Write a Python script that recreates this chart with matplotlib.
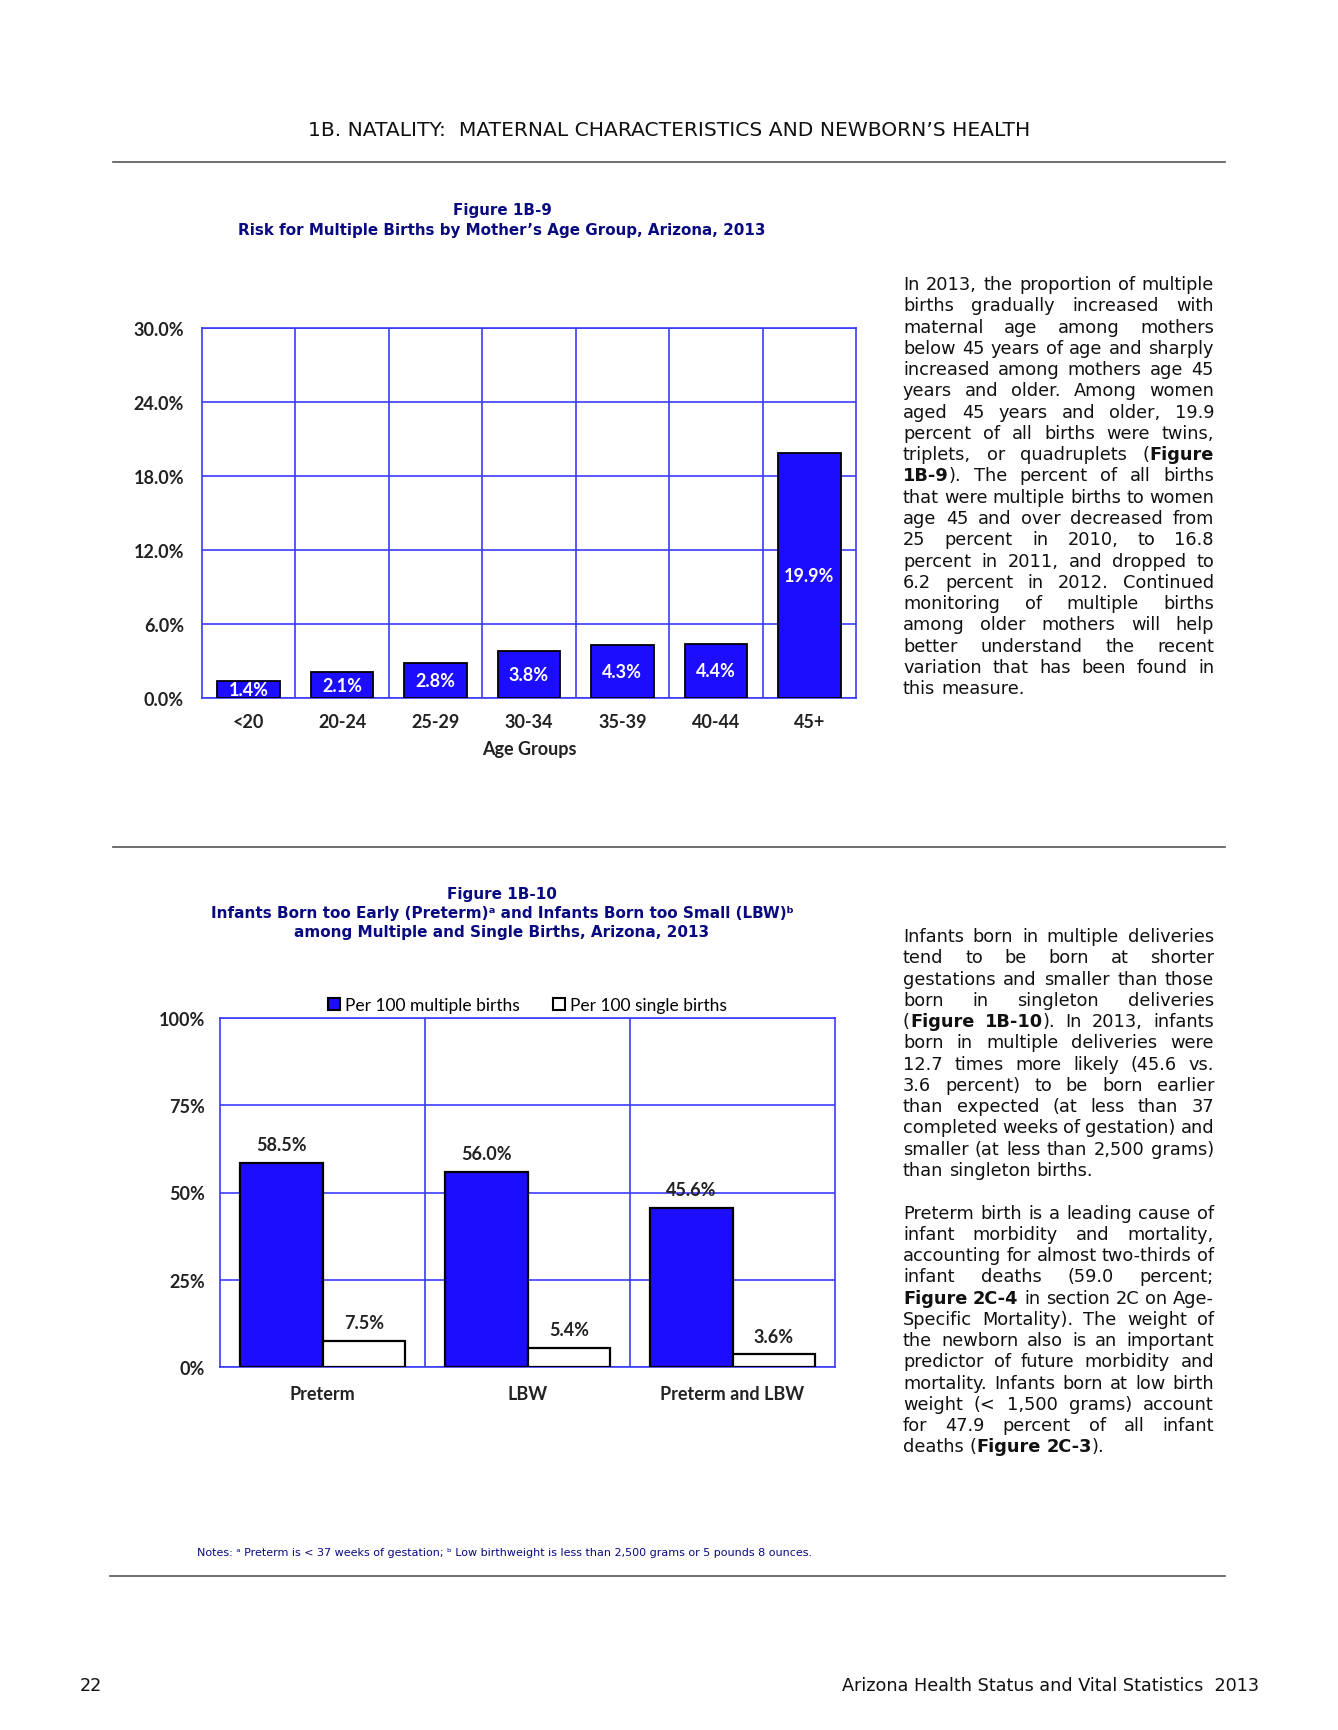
import matplotlib
matplotlib.use('Agg')
import matplotlib.pyplot as plt
from matplotlib.lines import Line2D
from matplotlib.patches import Patch
from matplotlib.ticker import FixedLocator

W, H = 1338, 1731

# Figure 1B-9 data
ages = ['<20', '20-24', '25-29', '30-34', '35-39', '40-44', '45+']
multiple_pct = [1.4, 2.1, 2.8, 3.8, 4.3, 4.4, 19.9]
ticks_1 = [0, 6, 12, 18, 24, 30]

# Figure 1B-10 data
outcomes = ['Preterm', 'LBW', 'Preterm and LBW']
per100_multiple = [58.5, 56.0, 45.6]
per100_single = [7.5, 5.4, 3.6]
ticks_2 = [0, 25, 50, 75, 100]
legend_names = ['Per 100 multiple births', 'Per 100 single births']

header = '1B. NATALITY:  MATERNAL CHARACTERISTICS AND NEWBORN\u2019S HEALTH'
title_1 = ['Figure 1B-9', 'Risk for Multiple Births by Mother\u2019s Age Group, Arizona, 2013']
title_2 = ['Figure 1B-10',
           'Infants Born too Early (Preterm)\u1d43 and Infants Born too Small (LBW)\u1d47',
           'among Multiple and Single Births, Arizona, 2013']
notes = ('Notes: \u1d43 Preterm is < 37 weeks of gestation; \u1d47 Low birthweight is less '
         'than 2,500 grams or 5 pounds 8 ounces.')

# text blocks, *...* = bold
para_1 = [
    'In 2013, the proportion of multiple',
    'births gradually increased with',
    'maternal age among mothers',
    'below 45 years of age and sharply',
    'increased among mothers age 45',
    'years and older. Among women',
    'aged 45 years and older, 19.9',
    'percent of all births were twins,',
    'triplets, or quadruplets (*Figure*',
    '*1B-9*). The percent of all births',
    'that were multiple births to women',
    'age 45 and over decreased from',
    '25 percent in 2010, to 16.8',
    'percent in 2011, and dropped to',
    '6.2 percent in 2012. Continued',
    'monitoring of multiple births',
    'among older mothers will help',
    'better understand the recent',
    'variation that has been found in',
    'this measure.',
]
para_2 = [
    'Infants born in multiple deliveries',
    'tend to be born at shorter',
    'gestations and smaller than those',
    'born in singleton deliveries',
    '(*Figure 1B-10*). In 2013, infants',
    'born in multiple deliveries were',
    '12.7 times more likely (45.6 vs.',
    '3.6 percent) to be born earlier',
    'than expected (at less than 37',
    'completed weeks of gestation) and',
    'smaller (at less than 2,500 grams)',
    'than singleton births.',
]
para_3 = [
    'Preterm birth is a leading cause of',
    'infant morbidity and mortality,',
    'accounting for almost two-thirds of',
    'infant deaths (59.0 percent;',
    '*Figure 2C-4* in section 2C on Age-',
    'Specific Mortality). The weight of',
    'the newborn also is an important',
    'predictor of future morbidity and',
    'mortality. Infants born at low birth',
    'weight (< 1,500 grams) account',
    'for 47.9 percent of all infant',
    'deaths (*Figure 2C-3*).',
]

BLUE = '#1c0dff'
GRID = '#3b3bff'
NAVY = '#0a0a80'
CHART_FONT = ['Lato', 'DejaVu Sans']
plt.rcParams['font.family'] = ['DejaVu Sans']


def fx(x):
    return x / W


def fy(y):
    return 1 - y / H


fig = plt.figure(figsize=(W / 100, H / 100), dpi=100)
renderer = fig.canvas.get_renderer()

# page header / footer / rules
fig.text(fx(669), fy(130), header, ha='center', va='center', fontsize=14.6, color='#111')
for y, x0, x1 in [(163, 113, 1225), (848, 113, 1225), (1577, 110, 1225)]:
    fig.add_artist(Line2D([fx(x0), fx(x1)], [fy(y), fy(y)], color='#555', lw=1.2,
                          transform=fig.transFigure))
fig.text(fx(80), fy(1686), '22', ha='left', va='center', fontsize=12.7, color='#111')
fig.text(fx(1259), fy(1686), 'Arizona Health Status and Vital Statistics  2013',
         ha='right', va='center', fontsize=12.7, color='#111')

# chart titles
for i, s in enumerate(title_1):
    fig.text(fx(502), fy(211 + 19 * i), s, ha='center', va='center', fontsize=10.9,
             fontweight='bold', color=NAVY)
for i, s in enumerate(title_2):
    fig.text(fx(502), fy(895 + 19 * i), s, ha='center', va='center', fontsize=11,
             fontweight='bold', color=NAVY)
fig.text(fx(197), fy(1553), notes, ha='left', va='center', fontsize=8, color=NAVY)


def style_axes(ax, n):
    ax.set_xlim(-0.5, n - 0.5)
    ax.xaxis.set_minor_locator(FixedLocator([i + 0.5 for i in range(n - 1)]))
    ax.grid(axis='y', which='major', color=GRID, lw=1.2, zorder=0)
    ax.grid(axis='x', which='minor', color=GRID, lw=1.2, zorder=0)
    ax.set_axisbelow(True)
    ax.tick_params(which='both', length=0)
    for sp in ax.spines.values():
        sp.set_color(GRID)
        sp.set_linewidth(1.2)


# Figure 1B-9
ax1 = fig.add_axes([fx(202), fy(699), (856 - 202) / W, (699 - 329) / H])
x1 = range(len(ages))
bars = ax1.bar(x1, multiple_pct, width=0.67, color=BLUE, edgecolor='black', linewidth=1.3, zorder=3)
ax1.set_ylim(0, 30)
style_axes(ax1, len(ages))
ax1.set_yticks(ticks_1, [f'{v:.1f}%' for v in ticks_1])
ax1.set_xticks(list(x1), ages)
ax1.tick_params(axis='y', pad=13)
ax1.tick_params(axis='x', pad=11)
for lab in ax1.get_xticklabels() + ax1.get_yticklabels():
    lab.set_family(CHART_FONT)
    lab.set_fontweight('bold')
    lab.set_fontsize(13)
    lab.set_color('#222')
ax1.set_xlabel('Age Groups', family=CHART_FONT, fontweight='bold', fontsize=13,
               color='#222', labelpad=7)
ax1.bar_label(bars, labels=[f'{v}%' for v in multiple_pct], label_type='center',
              color='white', fontweight='bold', fontsize=13, family=CHART_FONT)

# Figure 1B-10
ax2 = fig.add_axes([fx(220), fy(1368), (835 - 220) / W, (1368 - 1019) / H])
x2 = list(range(len(outcomes)))
bw = 0.404
b1 = ax2.bar([v - bw / 2 for v in x2], per100_multiple, bw, color=BLUE, edgecolor='black',
             linewidth=1.6, zorder=3)
b2 = ax2.bar([v + bw / 2 for v in x2], per100_single, bw, color='white', edgecolor='black',
             linewidth=1.6, zorder=3)
ax2.set_ylim(0, 100)
style_axes(ax2, len(outcomes))
ax2.set_yticks(ticks_2, [f'{v}%' for v in ticks_2])
ax2.set_xticks(x2, outcomes)
ax2.tick_params(axis='y', pad=11)
ax2.tick_params(axis='x', pad=13)
for lab in ax2.get_xticklabels() + ax2.get_yticklabels():
    lab.set_family(CHART_FONT)
    lab.set_fontweight('bold')
    lab.set_fontsize(13)
    lab.set_color('#222')
for b, vals in [(b1, per100_multiple), (b2, per100_single)]:
    ax2.bar_label(b, labels=[f'{v:.1f}%' for v in vals], padding=7, fontweight='bold',
                  fontsize=13, family=CHART_FONT, color='#222')
handles = [Patch(facecolor=BLUE, edgecolor='black', lw=1.5),
           Patch(facecolor='white', edgecolor='black', lw=1.5)]
ax2.legend(handles, legend_names, loc='lower center', bbox_to_anchor=(0.5, 0.995), ncol=2,
           frameon=False, handlelength=0.7, handleheight=0.7, handletextpad=0.3,
           columnspacing=1.9, prop={'family': CHART_FONT, 'size': 12.5}, borderaxespad=0)


# justified body text
def text_width(s, bold, size):
    t = fig.text(0, 0, s, fontsize=size, fontweight='bold' if bold else 'normal')
    w = t.get_window_extent(renderer).width
    t.remove()
    return w


def parse(line):
    words, bold = [], False
    for w in line.split(' '):
        segs, cur = [], ''
        for ch in w:
            if ch == '*':
                if cur:
                    segs.append((cur, bold))
                    cur = ''
                bold = not bold
            else:
                cur += ch
        if cur:
            segs.append((cur, bold))
        words.append(segs)
    return words


def draw_paragraph(lines, left, right, y_first, dy, size=12.8):
    space = text_width('a a', False, size) - text_width('aa', False, size)
    for i, line in enumerate(lines):
        words = parse(line)
        widths = [[text_width(s, b, size) for s, b in w] for w in words]
        totals = [sum(w) for w in widths]
        last = i == len(lines) - 1
        if last or len(words) == 1:
            gap = space
        else:
            gap = (right - left - sum(totals)) / (len(words) - 1)
        x = left
        y = fy(y_first + i * dy + 6)
        for w, ws in zip(words, widths):
            for (s, b), sw in zip(w, ws):
                fig.text(fx(x), y, s, fontsize=size, fontweight='bold' if b else 'normal',
                         ha='left', va='baseline', color='#111')
                x += sw
            x += gap


dy = 21.27
draw_paragraph(para_1, 903, 1214, 284, dy)
draw_paragraph(para_2, 903, 1214, 936, dy)
draw_paragraph(para_3, 903, 1214, 936 + 13 * dy, dy)

fig.savefig('out.png', dpi=100)
